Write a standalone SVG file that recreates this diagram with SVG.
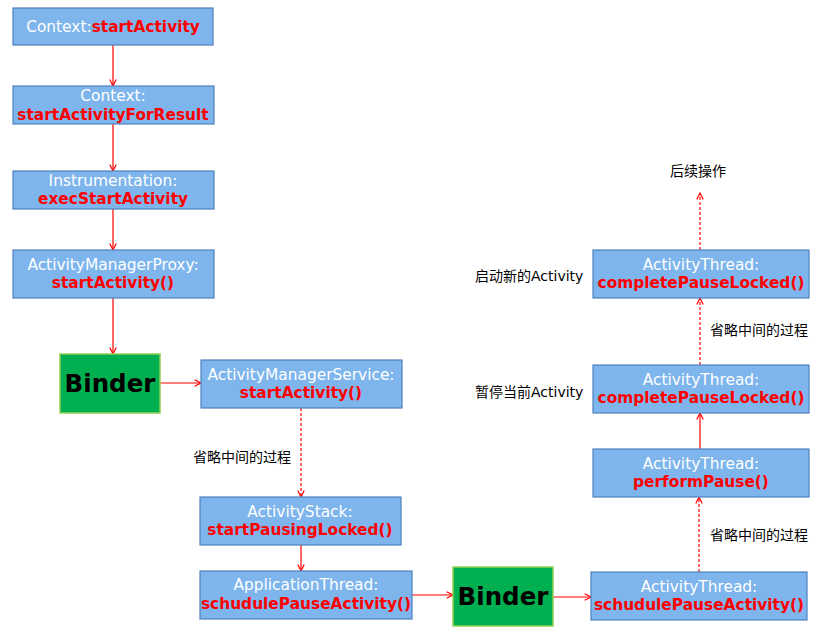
<svg xmlns="http://www.w3.org/2000/svg" width="833" height="639" viewBox="0 0 833 639">
<defs>
<style>
.box{fill:#7db5ec;stroke:#4f81bd;stroke-width:1.2}
.bind{fill:#00b050;stroke:#92d050;stroke-width:1.5}
.w{fill:#ffffff;font-family:"DejaVu Sans",sans-serif;font-size:15.4px}
.r{fill:#ff0000;font-family:"DejaVu Sans",sans-serif;font-size:15.4px;font-weight:bold}
.bt{fill:#000;font-family:"DejaVu Sans",sans-serif;font-size:24.5px;font-weight:bold}
.lbl{fill:#000;font-family:"DejaVu Sans","Noto Sans CJK SC",sans-serif;font-size:14px}
.c{stroke:#ff0000;stroke-width:1.2;fill:none}
.d{stroke-dasharray:3,2}
</style>
<marker id="a" viewBox="0 0 10 10" refX="9" refY="5" markerWidth="8" markerHeight="8" orient="auto" markerUnits="userSpaceOnUse">
<path d="M1,1 L9,5 L1,9" fill="none" stroke="#ff0000" stroke-width="1.5"/>
</marker>
</defs>
<rect width="833" height="639" fill="#ffffff"/>
<g id="connectors">
<line class="c" x1="113" y1="45" x2="113" y2="86" marker-end="url(#a)"/>
<line class="c" x1="113" y1="124" x2="113" y2="171" marker-end="url(#a)"/>
<line class="c" x1="113" y1="209" x2="113" y2="250" marker-end="url(#a)"/>
<line class="c" x1="113" y1="298" x2="113" y2="354" marker-end="url(#a)"/>
<line class="c" x1="160" y1="383" x2="201" y2="383" marker-end="url(#a)"/>
<line class="c d" x1="301" y1="408" x2="301" y2="497" marker-end="url(#a)"/>
<line class="c" x1="301" y1="545" x2="301" y2="571" marker-end="url(#a)"/>
<line class="c" x1="412" y1="595" x2="453" y2="595" marker-end="url(#a)"/>
<line class="c" x1="553" y1="597" x2="591" y2="597" marker-end="url(#a)"/>
<line class="c d" x1="699" y1="572" x2="699" y2="497" marker-end="url(#a)"/>
<line class="c" x1="700" y1="449" x2="700" y2="413" marker-end="url(#a)"/>
<line class="c d" x1="700" y1="365" x2="700" y2="298" marker-end="url(#a)"/>
<line class="c d" x1="700" y1="250" x2="700" y2="193" marker-end="url(#a)"/>
</g>
<g id="n1"><rect class="box" x="13" y="8" width="200" height="37"/><text x="113" y="32" text-anchor="middle"><tspan class="w">Context:</tspan><tspan class="r">startActivity</tspan></text></g>
<g id="n2"><rect class="box" x="13" y="86" width="201" height="38"/><text class="w" x="113" y="101" text-anchor="middle">Context:</text><text class="r" x="113" y="120" text-anchor="middle">startActivityForResult</text></g>
<g id="n3"><rect class="box" x="13" y="171" width="201" height="38"/><text class="w" x="113" y="186" text-anchor="middle">Instrumentation:</text><text class="r" x="113" y="204" text-anchor="middle">execStartActivity</text></g>
<g id="n4"><rect class="box" x="13" y="250" width="201" height="48"/><text class="w" x="113" y="270" text-anchor="middle">ActivityManagerProxy:</text><text class="r" x="113" y="288" text-anchor="middle">startActivity()</text></g>
<g id="binder1"><rect class="bind" x="60" y="354" width="100" height="59"/><text class="bt" x="110" y="392" text-anchor="middle">Binder</text></g>
<g id="n5"><rect class="box" x="201" y="360" width="201" height="48"/><text class="w" x="301" y="380" text-anchor="middle">ActivityManagerService:</text><text class="r" x="301" y="398" text-anchor="middle">startActivity()</text></g>
<g id="n6"><rect class="box" x="200" y="497" width="201" height="48"/><text class="w" x="300" y="517" text-anchor="middle">ActivityStack:</text><text class="r" x="300" y="535" text-anchor="middle">startPausingLocked()</text></g>
<g id="n7"><rect class="box" x="200" y="571" width="212" height="48"/><text class="w" x="306" y="590" text-anchor="middle">ApplicationThread:</text><text class="r" x="306" y="609" text-anchor="middle">schudulePauseActivity()</text></g>
<g id="binder2"><rect class="bind" x="453" y="567" width="100" height="59"/><text class="bt" x="503" y="605" text-anchor="middle">Binder</text></g>
<g id="n8"><rect class="box" x="591" y="572" width="216" height="48"/><text class="w" x="699" y="592" text-anchor="middle">ActivityThread:</text><text class="r" x="699" y="610" text-anchor="middle">schudulePauseActivity()</text></g>
<g id="n9"><rect class="box" x="593" y="449" width="216" height="48"/><text class="w" x="701" y="469" text-anchor="middle">ActivityThread:</text><text class="r" x="701" y="487" text-anchor="middle">performPause()</text></g>
<g id="n10"><rect class="box" x="593" y="365" width="216" height="48"/><text class="w" x="701" y="385" text-anchor="middle">ActivityThread:</text><text class="r" x="701" y="403" text-anchor="middle">completePauseLocked()</text></g>
<g id="n11"><rect class="box" x="593" y="250" width="216" height="48"/><text class="w" x="701" y="270" text-anchor="middle">ActivityThread:</text><text class="r" x="701" y="288" text-anchor="middle">completePauseLocked()</text></g>
<g id="labels">
<text class="lbl" x="698" y="176" text-anchor="middle">后续操作</text>
<text class="lbl" x="475" y="281">启动新的Activity</text>
<text class="lbl" x="475" y="397">暂停当前Activity</text>
<text class="lbl" x="193" y="462">省略中间的过程</text>
<text class="lbl" x="710" y="335">省略中间的过程</text>
<text class="lbl" x="710" y="540">省略中间的过程</text>
</g>
</svg>
